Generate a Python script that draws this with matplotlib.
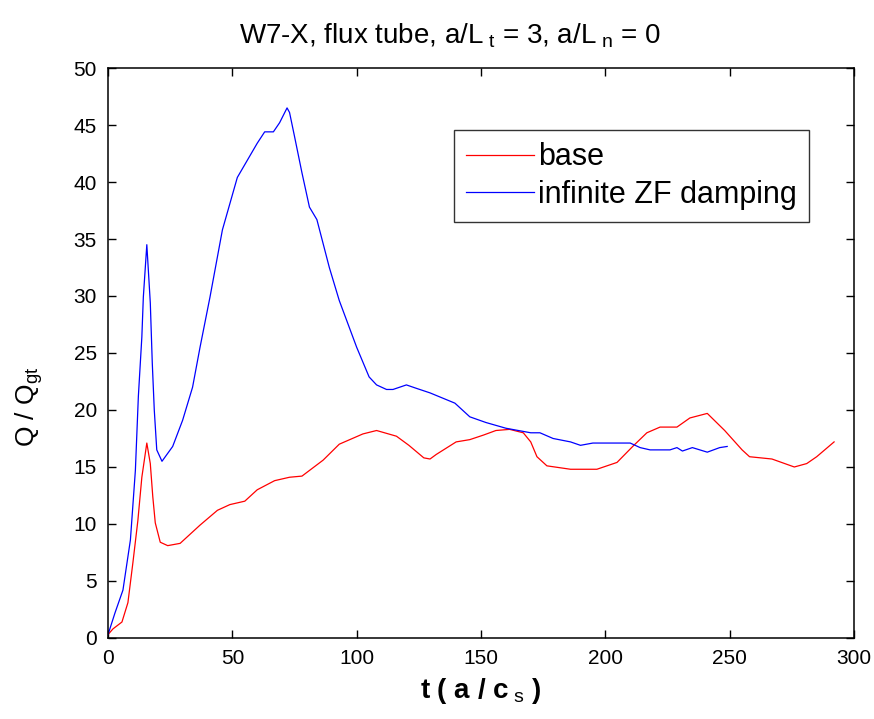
import matplotlib
matplotlib.use("Agg")
import matplotlib.pyplot as plt

plt.rcParams["font.family"] = ["Liberation Sans", "DejaVu Sans"]
plt.rcParams["mathtext.fontset"] = "custom"
plt.rcParams["mathtext.rm"] = "Liberation Sans"
plt.rcParams["mathtext.it"] = "Liberation Sans"
plt.rcParams["mathtext.bf"] = "Liberation Sans:bold"

# values
t_base = [0, 2, 5.6, 8, 10, 12, 13.6, 15.6, 17, 18, 19, 21, 24, 29, 37, 44, 49, 55, 60,
          67, 73, 78, 86.5, 93, 102.5, 108, 116, 121, 127, 129.5, 132, 140, 145.5, 151,
          156, 161.5, 167, 170, 172.5, 176.5, 186, 196.6, 204.7, 211, 216.7, 222, 228.8,
          234, 241, 248, 255, 258, 267, 276, 281, 285, 292]
q_base = [0.3, 0.8, 1.4, 3.1, 6.6, 10.3, 14.1, 17.1, 15.3, 12.4, 10.1, 8.4, 8.1, 8.3, 9.9,
          11.2, 11.7, 12.0, 13.0, 13.8, 14.1, 14.2, 15.6, 17.0, 17.9, 18.2, 17.7, 16.9,
          15.8, 15.7, 16.1, 17.2, 17.4, 17.8, 18.2, 18.3, 18.0, 17.2, 15.9, 15.1, 14.8,
          14.8, 15.4, 16.8, 18.0, 18.5, 18.5, 19.3, 19.7, 18.2, 16.5, 15.9, 15.7, 15.0,
          15.3, 15.9, 17.2]

t_zf = [0, 2.8, 6, 9, 11, 12.2, 13.6, 14.2, 15.6, 17, 17.8, 18.6, 19.6, 21.7, 26, 30, 34,
        37, 41, 46, 52, 56, 60, 63, 66.5, 69, 72, 73, 75, 78, 81, 84, 89, 93, 100, 105,
        108, 112, 114.6, 120, 124, 129.5, 139.5, 145.5, 152, 160, 170, 173.7, 179, 186,
        190, 195, 210, 214, 218, 226, 228.8, 231, 235, 241, 246, 249]
q_zf = [0.3, 2.2, 4.2, 8.6, 14.7, 21.2, 26.4, 29.9, 34.5, 29.4, 24.1, 20.0, 16.5, 15.5,
        16.8, 19.1, 22.0, 25.5, 29.9, 35.8, 40.4, 41.9, 43.4, 44.4, 44.4, 45.2, 46.5,
        46.1, 44.0, 40.8, 37.8, 36.7, 32.5, 29.6, 25.5, 22.9, 22.2, 21.8, 21.8, 22.2,
        21.9, 21.5, 20.6, 19.4, 18.9, 18.4, 18.0, 18.0, 17.5, 17.2, 16.9, 17.1, 17.1,
        16.7, 16.5, 16.5, 16.7, 16.4, 16.7, 16.3, 16.7, 16.8]

x_ticks = [0, 50, 100, 150, 200, 250, 300]
y_ticks = [0, 5, 10, 15, 20, 25, 30, 35, 40, 45, 50]


def main():
    fig = plt.figure(figsize=(8.74, 7.19), dpi=100)
    ax = fig.add_axes([0.1236, 0.1127, 0.8535, 0.7927])

    ax.plot(t_base, q_base, color="#ff0000", lw=0.9, label="base")
    ax.plot(t_zf, q_zf, color="#0000ff", lw=0.9, label="infinite ZF damping")

    ax.set_xlim(0, 300)
    ax.set_ylim(0, 50)
    ax.set_xticks(x_ticks)
    ax.set_yticks(y_ticks)
    ax.tick_params(direction="in", length=6, width=1, top=True, right=True,
                   labelsize=15, pad=8)
    for spine in ax.spines.values():
        spine.set_linewidth(1.1)

    # title sits a little left of the axes centre in the original
    fig.text(0.515, 0.94, r"W7-X, flux tube, a/L$_{\ t}$ = 3, a/L$_{\ n}$ = 0",
             fontsize=20, ha="center", va="baseline")
    ax.set_xlabel(r"t ( a / c$_{\ s}$ )", fontsize=20, fontweight="bold", labelpad=6)
    ax.set_ylabel(r"Q / Q$_{gt}$", fontsize=19)
    ax.yaxis.set_label_coords(-0.085, 0.405)

    leg = ax.legend(loc="upper left", bbox_to_anchor=(0.464, 0.891), fontsize=22,
                    frameon=True, fancybox=False, edgecolor="black",
                    handlelength=2.2, handletextpad=0.15, borderpad=0.4,
                    labelspacing=0.25, borderaxespad=0)
    leg.get_frame().set_linewidth(1.0)

    fig.savefig("out.png", dpi=100)
    plt.close(fig)


if __name__ == "__main__":
    main()
